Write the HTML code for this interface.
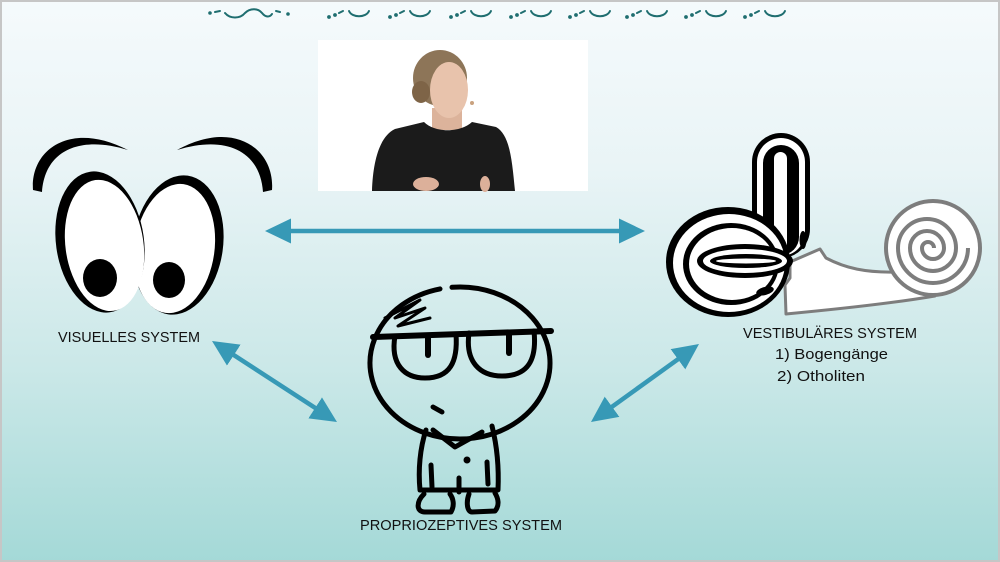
<!DOCTYPE html>
<html><head><meta charset="utf-8"><style>
html,body{margin:0;padding:0;width:1000px;height:562px;overflow:hidden;background:#fff}
svg{display:block}
text{font-family:"Liberation Sans",sans-serif;fill:#111}
</style></head><body>
<svg width="1000" height="562" viewBox="0 0 1000 562" xmlns="http://www.w3.org/2000/svg">
<defs>
<linearGradient id="bg" x1="0" y1="0" x2="0" y2="1">
<stop offset="0" stop-color="#f5fafc"/>
<stop offset="0.3" stop-color="#e9f4f6"/>
<stop offset="0.65" stop-color="#cbe8e8"/>
<stop offset="1" stop-color="#a4d9d7"/>
</linearGradient>
<marker id="ah" viewBox="0 0 26 25" refX="16" refY="12.5" markerWidth="26" markerHeight="25" markerUnits="userSpaceOnUse" orient="auto-start-reverse">
<path d="M0,0 L26,12.5 L0,25 Z" fill="#3799b6"/>
</marker>
</defs>
<rect x="0" y="0" width="1000" height="562" fill="url(#bg)"/>
<rect x="1" y="1" width="998" height="560" fill="none" stroke="#c6c6c6" stroke-width="2"/>

<!-- top squiggles -->
<g fill="none" stroke="#1f6e70" stroke-width="2" stroke-linecap="round">
<circle cx="210" cy="13" r="0.8" fill="#1f6e70"/>
<path d="M215,12 L220,11"/>
<path d="M225,13 C230,19 240,19 245,13 C250,8 258,8 262,13 C266,18 270,17 272,14"/>
<path d="M276,11 L280,12"/>
<circle cx="288" cy="14" r="0.8" fill="#1f6e70"/>
<g id="sq">
<circle cx="329" cy="17" r="0.9" fill="#1f6e70"/>
<circle cx="335" cy="15" r="0.9" fill="#1f6e70"/>
<path d="M339,13 L343,11"/>
<path d="M349,11 C352,18 366,18 369,11"/>
</g>
<use href="#sq" x="61"/>
<use href="#sq" x="122"/>
<use href="#sq" x="182"/>
<use href="#sq" x="241"/>
<use href="#sq" x="298"/>
<use href="#sq" x="357"/>
<use href="#sq" x="416"/>
</g>

<!-- video -->
<rect x="318" y="40" width="270" height="151" fill="#ffffff"/>
<ellipse cx="440" cy="78" rx="27" ry="28" fill="#8d7558"/>
<ellipse cx="421" cy="92" rx="9" ry="11" fill="#7e6447"/>
<rect x="432" y="108" width="30" height="22" fill="#dcb39b"/>
<ellipse cx="449" cy="90" rx="19" ry="28" fill="#e8c3ac"/>
<circle cx="472" cy="103" r="2" fill="#c9a27f"/>
<path d="M372,191 C373,160 380,136 395,129 L424,122 C435,133 460,133 472,122 L496,127 C510,135 512,160 515,191 Z" fill="#1b1b1b"/>
<ellipse cx="426" cy="184" rx="13" ry="7" fill="#dcb09a"/>
<ellipse cx="485" cy="184" rx="5" ry="8" fill="#dcb09a"/>

<!-- arrows -->
<g stroke="#3799b6" stroke-width="4.5" fill="none">
<line x1="275" y1="231" x2="635" y2="231" marker-start="url(#ah)" marker-end="url(#ah)"/>
<line x1="220.4" y1="346.4" x2="328.6" y2="416.6" marker-start="url(#ah)" marker-end="url(#ah)"/>
<line x1="599.1" y1="416.1" x2="690.9" y2="349.9" marker-start="url(#ah)" marker-end="url(#ah)"/>
</g>

<!-- eyes -->
<path d="M33,190 C30,150 70,120 128,150 C80,135 45,150 42,192 Z" fill="#000"/>
<path d="M272,190 C275,150 235,118 177,150 C225,135 260,150 263,192 Z" fill="#000"/>
<g transform="rotate(8 178 245)">
<ellipse cx="178" cy="245" rx="45" ry="70" fill="#000"/>
<ellipse cx="175" cy="249" rx="40" ry="65" fill="#fff"/>
</g>
<g transform="rotate(-8 100 242)">
<ellipse cx="100" cy="242" rx="44" ry="71" fill="#000"/>
<ellipse cx="104" cy="246" rx="39" ry="66" fill="#fff"/>
</g>
<ellipse cx="100" cy="278" rx="17" ry="19" fill="#000"/>
<ellipse cx="169" cy="280" rx="16" ry="18" fill="#000"/>
<text x="58" y="342" font-size="15" textLength="142" lengthAdjust="spacingAndGlyphs">VISUELLES SYSTEM</text>

<!-- ear -->
<path d="M790,262 L820,249 L826,258 C845,268 865,273 900,272 L935,296 C900,302 850,308 786,314 L785,285 L790,278 Z" fill="#fff" stroke="#7d7d7d" stroke-width="3" stroke-linejoin="round"/>
<circle cx="933" cy="248" r="47" fill="#fff" stroke="#7d7d7d" stroke-width="4"/>
<path d="M968,248 A35,35 0 0 1 898,248 A29,29 0 0 1 956,248 A23,23 0 0 1 910,248 A17,17 0 0 1 944,248 A11,11 0 0 1 922,248 A6,6 0 0 1 934,248" fill="none" stroke="#7d7d7d" stroke-width="4"/>
<!-- top canal -->
<rect x="752" y="133" width="58" height="125" rx="29" fill="#000"/>
<rect x="757" y="138" width="48" height="118" rx="24" fill="#fff"/>
<rect x="763" y="145" width="36" height="110" rx="18" fill="#000"/>
<rect x="774" y="152" width="13" height="100" rx="6.5" fill="#fff"/>
<ellipse cx="803" cy="240" rx="3.5" ry="9" fill="#000"/>
<!-- left canal -->
<ellipse cx="728" cy="262" rx="62" ry="55" fill="#000"/>
<ellipse cx="729" cy="263" rx="56" ry="49" fill="#fff"/>
<ellipse cx="731" cy="264" rx="48" ry="41" fill="#000"/>
<ellipse cx="732" cy="264" rx="43" ry="36" fill="#fff"/>
<ellipse cx="745" cy="261" rx="48" ry="17" fill="#000"/>
<ellipse cx="745" cy="261" rx="42" ry="12" fill="#fff"/>
<ellipse cx="746" cy="261" rx="36" ry="7" fill="#000"/>
<ellipse cx="746" cy="261" rx="30" ry="2.5" fill="#fff"/>
<ellipse cx="765" cy="291" rx="9" ry="4" fill="#000" transform="rotate(-15 765 291)"/>
<text x="743" y="338" font-size="15" textLength="174" lengthAdjust="spacingAndGlyphs">VESTIBULÄRES SYSTEM</text>
<text x="775" y="359" font-size="15" textLength="113" lengthAdjust="spacingAndGlyphs">1) Bogengänge</text>
<text x="777" y="381" font-size="15" textLength="88" lengthAdjust="spacingAndGlyphs">2) Otholiten</text>

<!-- stick figure -->
<g fill="none" stroke="#000" stroke-width="5" stroke-linecap="round" stroke-linejoin="round">
<path d="M452,287.3 A90,76 0 1 1 440,288.9"/>
<path d="M385,318 L420,300 L395,318 L425,308 L398,326 L430,318" stroke-width="3"/>
<line x1="373" y1="337" x2="551" y2="331" stroke-width="6"/>
<path d="M395,336 C390,365 405,378 425,378 C450,378 458,362 456,334"/>
<path d="M469,333 C465,362 480,376 502,376 C528,376 537,360 534,331"/>
<line x1="428" y1="338" x2="428" y2="355" stroke-width="6"/>
<line x1="509" y1="335" x2="509" y2="353" stroke-width="6"/>
<line x1="433" y1="407" x2="442" y2="412"/>
<path d="M426,430 C420,448 418,470 420,490 L498,490 C499,468 497,446 492,426"/>
<path d="M433,430 L455,447 L482,432"/>
<line x1="431" y1="465" x2="432" y2="487"/>
<line x1="487" y1="462" x2="488" y2="484"/>
<line x1="459" y1="478" x2="459" y2="492"/>
<path d="M424,494 C416,502 416,512 425,512 L451,512 C455,505 453,498 450,494"/>
<path d="M469,494 C466,502 467,512 472,512 L495,511 C500,505 498,498 495,493"/>
</g>
<circle cx="467" cy="460" r="3.5" fill="#000"/>
<text x="360" y="530" font-size="15" textLength="202" lengthAdjust="spacingAndGlyphs">PROPRIOZEPTIVES SYSTEM</text>
</svg>
</body></html>
